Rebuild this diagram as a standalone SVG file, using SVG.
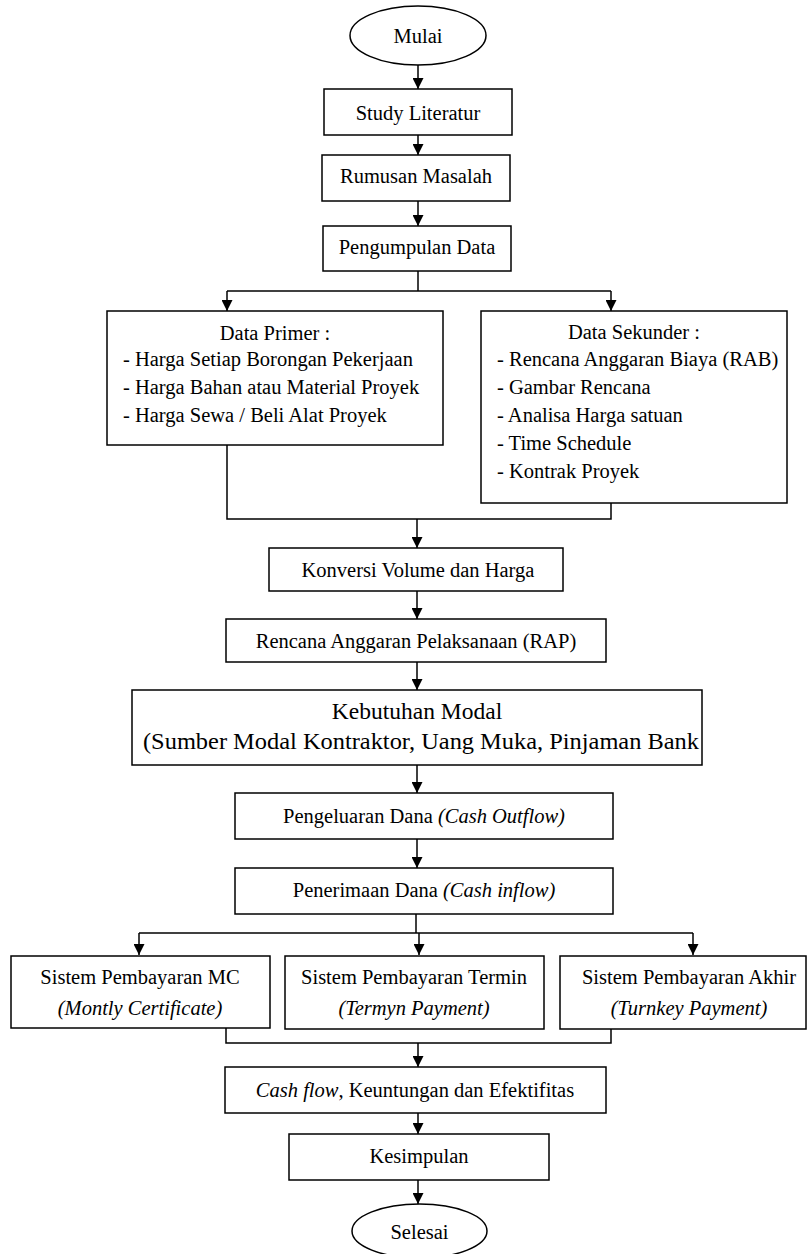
<svg xmlns="http://www.w3.org/2000/svg" width="808" height="1254" viewBox="0 0 808 1254">
<defs>
<style>
.b{fill:#fff;stroke:#000;stroke-width:1.5}
.t{font-family:"Liberation Serif","Times New Roman",serif;font-size:20.5px;fill:#000}
.m{text-anchor:middle}
.k{font-size:23.5px}
.i{font-style:italic}
.c{fill:none;stroke:#000;stroke-width:1.5}
</style>
<marker id="ah" markerUnits="userSpaceOnUse" markerWidth="12" markerHeight="11" refX="11" refY="5.5" orient="auto">
<path d="M0,0 L11,5.5 L0,11 z" fill="#000"/>
</marker>
</defs>
<rect width="808" height="1254" fill="#fff"/>
<g id="connectors">
<path class="c" d="M418,65 V89" marker-end="url(#ah)"/>
<path class="c" d="M418,135 V155" marker-end="url(#ah)"/>
<path class="c" d="M418,201 V226" marker-end="url(#ah)"/>
<path class="c" d="M418,271 V291"/>
<path class="c" d="M227,291 H611"/>
<path class="c" d="M227,291 V311" marker-end="url(#ah)"/>
<path class="c" d="M611,291 V311" marker-end="url(#ah)"/>
<path class="c" d="M227,445 V519 H611 V503"/>
<path class="c" d="M417,519 V548" marker-end="url(#ah)"/>
<path class="c" d="M417,591 V619" marker-end="url(#ah)"/>
<path class="c" d="M417,662 V690" marker-end="url(#ah)"/>
<path class="c" d="M417,765 V793" marker-end="url(#ah)"/>
<path class="c" d="M417,839 V868" marker-end="url(#ah)"/>
<path class="c" d="M416,914 V933"/>
<path class="c" d="M139,933 H693"/>
<path class="c" d="M139,933 V955" marker-end="url(#ah)"/>
<path class="c" d="M419,933 V955" marker-end="url(#ah)"/>
<path class="c" d="M693,933 V955" marker-end="url(#ah)"/>
<path class="c" d="M226,1021 V1043 H611 V1029"/>
<path class="c" d="M418,1043 V1067" marker-end="url(#ah)"/>
<path class="c" d="M418,1113 V1134" marker-end="url(#ah)"/>
<path class="c" d="M418,1180 V1204" marker-end="url(#ah)"/>
</g>
<g id="mulai">
<ellipse class="b" cx="418" cy="35.5" rx="68" ry="29.5"/>
<text class="t m" x="418" y="43">Mulai</text>
</g>
<g id="study">
<rect class="b" x="324" y="89" width="188" height="46"/>
<text class="t m" x="418" y="120">Study Literatur</text>
</g>
<g id="rumusan">
<rect class="b" x="322" y="155" width="188" height="46"/>
<text class="t m" x="416" y="183">Rumusan Masalah</text>
</g>
<g id="pengumpulan">
<rect class="b" x="323" y="226" width="188" height="45"/>
<text class="t m" x="417" y="254">Pengumpulan Data</text>
</g>
<g id="primer">
<rect class="b" x="107" y="311" width="336" height="134"/>
<text class="t m" x="275" y="340">Data Primer :</text>
<text class="t" x="123" y="366">- Harga Setiap Borongan Pekerjaan</text>
<text class="t" x="123" y="394">- Harga Bahan atau Material Proyek</text>
<text class="t" x="123" y="422">- Harga Sewa / Beli Alat Proyek</text>
</g>
<g id="sekunder">
<rect class="b" x="481" y="311" width="306" height="192"/>
<text class="t m" x="634" y="339">Data Sekunder :</text>
<text class="t" x="497" y="366">- Rencana Anggaran Biaya (RAB)</text>
<text class="t" x="497" y="394">- Gambar Rencana</text>
<text class="t" x="497" y="422">- Analisa Harga satuan</text>
<text class="t" x="497" y="450">- Time Schedule</text>
<text class="t" x="497" y="478">- Kontrak Proyek</text>
</g>
<g id="konversi">
<rect class="b" x="269" y="548" width="294" height="43"/>
<text class="t m" x="418" y="577">Konversi Volume dan Harga</text>
</g>
<g id="rap">
<rect class="b" x="226" y="619" width="380" height="43"/>
<text class="t m" x="416" y="648">Rencana Anggaran Pelaksanaan (RAP)</text>
</g>
<g id="kebutuhan">
<rect class="b" x="132" y="690" width="570" height="75"/>
<text class="t k m" x="417" y="719">Kebutuhan Modal</text>
<text class="t k" x="143" y="749" textLength="556" lengthAdjust="spacingAndGlyphs">(Sumber Modal Kontraktor, Uang Muka, Pinjaman Bank</text>
</g>
<g id="pengeluaran">
<rect class="b" x="235" y="793" width="378" height="46"/>
<text class="t m" x="424" y="823">Pengeluaran Dana <tspan class="i">(Cash Outflow)</tspan></text>
</g>
<g id="penerimaan">
<rect class="b" x="235" y="868" width="378" height="46"/>
<text class="t m" x="424" y="897">Penerimaan Dana <tspan class="i">(Cash inflow)</tspan></text>
</g>
<g id="mc">
<rect class="b" x="11" y="956" width="259" height="72"/>
<text class="t m" x="140" y="984">Sistem Pembayaran MC</text>
<text class="t i m" x="140" y="1015">(Montly Certificate)</text>
</g>
<g id="termin">
<rect class="b" x="285" y="956" width="259" height="73"/>
<text class="t m" x="414" y="984">Sistem Pembayaran Termin</text>
<text class="t i m" x="414" y="1015">(Termyn Payment)</text>
</g>
<g id="akhir">
<rect class="b" x="560" y="956" width="246" height="73"/>
<text class="t m" x="689" y="984">Sistem Pembayaran Akhir</text>
<text class="t i m" x="689" y="1015">(Turnkey Payment)</text>
</g>
<g id="cashflow">
<rect class="b" x="225" y="1067" width="381" height="46"/>
<text class="t m" x="415" y="1097"><tspan class="i">Cash flow</tspan>, Keuntungan dan Efektifitas</text>
</g>
<g id="kesimpulan">
<rect class="b" x="289" y="1134" width="260" height="46"/>
<text class="t m" x="419" y="1163">Kesimpulan</text>
</g>
<g id="selesai">
<ellipse class="b" cx="419.5" cy="1231" rx="67.5" ry="27"/>
<text class="t m" x="419.5" y="1239">Selesai</text>
</g>
</svg>
